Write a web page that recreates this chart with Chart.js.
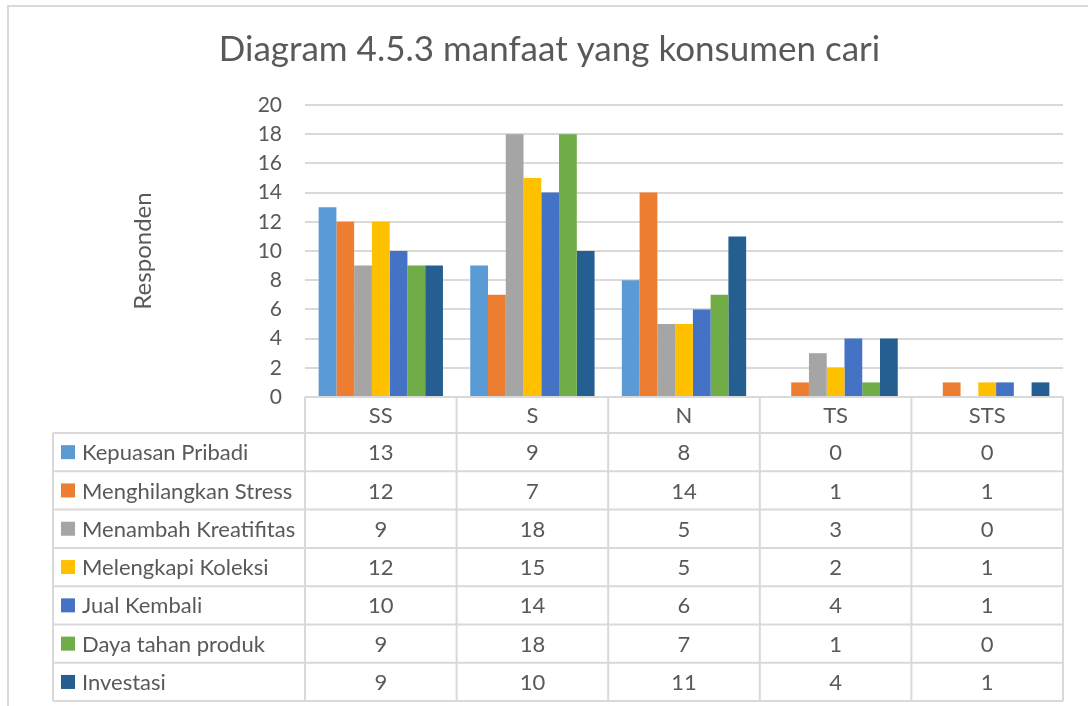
<!DOCTYPE html>
<html>
<head>
<meta charset="utf-8">
<script src="https://cdn.jsdelivr.net/npm/chart.js@4/dist/chart.umd.min.js"></script>
<style>
  html, body { margin: 0; padding: 0; background: #fff; }
  #wrap { width: 1088px; height: 706px; }
</style>
</head>
<body>
<div id="wrap"><canvas id="chart"></canvas></div>
<script>
// data
const categories = ["SS", "S", "N", "TS", "STS"];
const seriesNames = [
  "Kepuasan Pribadi",
  "Menghilangkan Stress",
  "Menambah Kreatifitas",
  "Melengkapi Koleksi",
  "Jual Kembali",
  "Daya tahan produk",
  "Investasi"
];
const kepuasanPribadi     = [13, 9, 8, 0, 0];
const menghilangkanStress = [12, 7, 14, 1, 1];
const menambahKreatifitas = [9, 18, 5, 3, 0];
const melengkapiKoleksi   = [12, 15, 5, 2, 1];
const jualKembali         = [10, 14, 6, 4, 1];
const dayaTahanProduk     = [9, 18, 7, 1, 0];
const investasi           = [9, 10, 11, 4, 1];

const seriesValues = [kepuasanPribadi, menghilangkanStress, menambahKreatifitas,
  melengkapiKoleksi, jualKembali, dayaTahanProduk, investasi];
const colors = ["#5B9BD5", "#ED7D31", "#A5A5A5", "#FFC000", "#4472C4", "#70AD47", "#255E91"];

const FONT = "Lato, 'Open Sans', sans-serif";
const TEXT = "#595959";
const LINE = "#d9d9d9";

// excel style data table under the plot, plus the outer frame
const dataTable = {
  id: "dataTable",
  beforeDraw(chart) {
    const ctx = chart.ctx;
    ctx.save();
    ctx.strokeStyle = LINE;
    ctx.lineWidth = 2;
    ctx.beginPath();
    ctx.moveTo(8, 706);
    ctx.lineTo(8, 6);
    ctx.lineTo(1088, 6);
    ctx.stroke();
    ctx.restore();
  },
  afterDraw(chart) {
    const { ctx, chartArea } = chart;
    const x = chart.scales.x;
    const colW = (chartArea.right - chartArea.left) / categories.length;
    const left = 53;
    const right = chartArea.right;
    const headTop = chartArea.bottom;
    const headBottom = headTop + 36;
    const rowH = 38.3;
    const bottom = headBottom + rowH * seriesNames.length;

    ctx.save();
    ctx.strokeStyle = LINE;
    ctx.lineWidth = 2;
    ctx.beginPath();
    ctx.moveTo(chartArea.left, headTop);
    ctx.lineTo(right, headTop);
    for (let r = 0; r <= seriesNames.length; r++) {
      const y = headBottom + r * rowH;
      ctx.moveTo(left, y);
      ctx.lineTo(right, y);
    }
    ctx.moveTo(left, headBottom);
    ctx.lineTo(left, bottom);
    for (let c = 0; c <= categories.length; c++) {
      const cx = chartArea.left + c * colW;
      ctx.moveTo(cx, headTop);
      ctx.lineTo(cx, bottom);
    }
    ctx.stroke();

    ctx.fillStyle = TEXT;
    ctx.font = "22px " + FONT;
    ctx.textBaseline = "middle";
    ctx.textAlign = "center";
    categories.forEach((cat, i) => {
      ctx.fillText(cat, x.getPixelForValue(i), (headTop + headBottom) / 2 + 1);
    });

    seriesNames.forEach((name, r) => {
      const yMid = headBottom + r * rowH + rowH / 2 + 1;
      ctx.fillStyle = colors[r];
      ctx.fillRect(61, yMid - 8, 14, 14);
      ctx.fillStyle = TEXT;
      ctx.textAlign = "left";
      ctx.fillText(name, 82, yMid);
      ctx.textAlign = "center";
      seriesValues[r].forEach((v, i) => {
        ctx.fillText(String(v), x.getPixelForValue(i), yMid);
      });
    });
    ctx.restore();
  }
};

new Chart(document.getElementById("chart"), {
  type: "bar",
  data: {
    labels: categories,
    datasets: seriesNames.map((name, i) => ({
      label: name,
      data: seriesValues[i],
      backgroundColor: colors[i],
      borderWidth: 0,
      categoryPercentage: 0.82,
      barPercentage: 1
    }))
  },
  options: {
    responsive: true,
    maintainAspectRatio: false,
    animation: false,
    layout: { padding: { left: 36, right: 25, top: 0, bottom: 0 } },
    plugins: {
      legend: { display: false },
      tooltip: { enabled: false },
      title: {
        display: true,
        text: "Diagram 4.5.3 manfaat yang konsumen cari",
        color: TEXT,
        font: { family: FONT, size: 35, weight: "normal" },
        padding: { top: 29, bottom: 34 }
      }
    },
    scales: {
      x: {
        ticks: { display: false },
        grid: { display: false },
        border: { display: false },
        afterFit(scale) { scale.height = 309; }
      },
      y: {
        min: 0,
        max: 20,
        ticks: { stepSize: 2, color: TEXT, padding: 23, font: { family: FONT, size: 21 } },
        grid: { color: LINE, lineWidth: 2, drawTicks: false },
        border: { display: false },
        title: {
          display: true,
          text: "Responden",
          color: TEXT,
          font: { family: FONT, size: 24 },
          padding: { top: 93 }
        },
        afterFit(scale) { scale.width = 269; }
      }
    }
  },
  plugins: [dataTable]
});
</script>
</body>
</html>
